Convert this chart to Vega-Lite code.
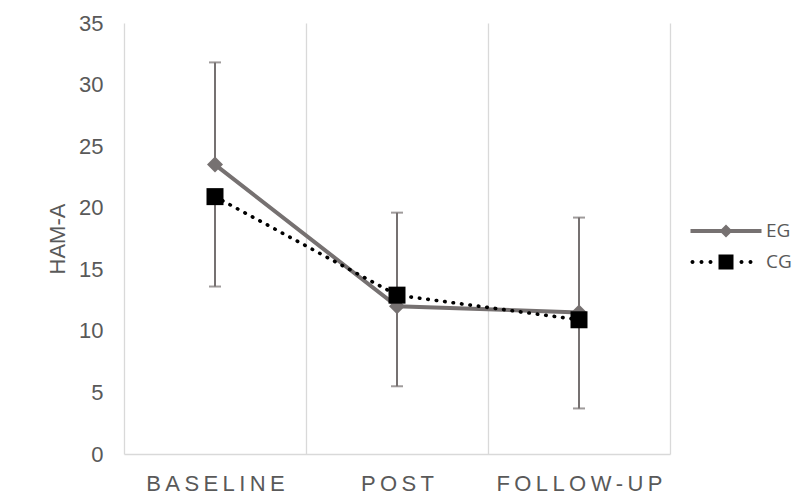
{
  "$schema": "https://vega.github.io/schema/vega-lite/v6.json",
  "autosize": {"type": "none"},
  "padding": {"left": 124, "top": 23, "right": 141, "bottom": 41},
  "width": 546,
  "height": 431,
  "background": "white",
  "config": {
    "font": "Liberation Sans",
    "view": {"stroke": null}
  },
  "data": {
    "values": [
      {"time": "BASELINE", "group": "EG", "mean": 23.5, "err": 31.8},
      {"time": "POST", "group": "EG", "mean": 12.0, "err": 19.6},
      {"time": "FOLLOW-UP", "group": "EG", "mean": 11.5, "err": 19.2},
      {"time": "BASELINE", "group": "CG", "mean": 20.9, "err": 13.6},
      {"time": "POST", "group": "CG", "mean": 12.9, "err": 5.5},
      {"time": "FOLLOW-UP", "group": "CG", "mean": 10.9, "err": 3.7}
    ]
  },
  "encoding": {
    "x": {
      "field": "time",
      "type": "nominal",
      "sort": ["BASELINE", "POST", "FOLLOW-UP"],
      "bandPosition": 0.5,
      "scale": {"type": "band", "paddingInner": 0, "paddingOuter": 0},
      "axis": {
        "title": null,
        "tickBand": "extent",
        "ticks": false,
        "grid": true,
        "gridColor": "#d9d9d9",
        "gridWidth": 1.3,
        "domainColor": "#d9d9d9",
        "domainWidth": 1.5,
        "labelFontSize": 22,
        "labelColor": "#595959",
        "labelPadding": 19,
        "labelAngle": 0,
        "labelExpr": "join(split(datum.label, ''), '\u2009')"
      }
    }
  },
  "layer": [
    {
      "mark": {"type": "rule", "color": "#767171", "strokeWidth": 2},
      "encoding": {
        "y": {
          "field": "mean",
          "type": "quantitative",
          "scale": {"domain": [0, 35], "nice": false},
          "axis": {
            "title": "HAM-A",
            "values": [0, 5, 10, 15, 20, 25, 30, 35],
            "grid": false,
            "domain": false,
            "ticks": false,
            "labelFontSize": 22,
            "labelColor": "#595959",
            "labelPadding": 21,
            "titleFontSize": 22,
            "titleFontWeight": "normal",
            "titleColor": "#595959",
            "titleX": -67,
            "titleBaseline": "middle"
          }
        },
        "y2": {"field": "err"}
      }
    },
    {
      "mark": {"type": "tick", "color": "#767171", "thickness": 2, "size": 12},
      "encoding": {
        "y": {"field": "err", "type": "quantitative"}
      }
    },
    {
      "transform": [{"filter": "datum.group === 'EG'"}],
      "mark": {"type": "line", "color": "#767171", "strokeWidth": 4},
      "encoding": {
        "y": {"field": "mean", "type": "quantitative"}
      }
    },
    {
      "transform": [{"filter": "datum.group === 'EG'"}],
      "mark": {"type": "point", "filled": true, "opacity": 1, "shape": "diamond", "size": 256, "color": "#767171"},
      "encoding": {
        "y": {"field": "mean", "type": "quantitative"}
      }
    },
    {
      "transform": [{"filter": "datum.group === 'CG'"}],
      "mark": {"type": "line", "color": "#000000", "strokeWidth": 3.6, "strokeDash": [0.5, 8], "strokeCap": "round"},
      "encoding": {
        "y": {"field": "mean", "type": "quantitative"}
      }
    },
    {
      "transform": [{"filter": "datum.group === 'CG'"}],
      "mark": {"type": "point", "filled": true, "opacity": 1, "shape": "square", "size": 289, "color": "#000000"},
      "encoding": {
        "y": {"field": "mean", "type": "quantitative"}
      }
    },
    {
      "transform": [{"filter": "false"}],
      "mark": {"type": "point", "filled": true, "opacity": 1, "size": 100},
      "encoding": {
        "y": {"field": "mean", "type": "quantitative"},
        "color": {
          "field": "group",
          "type": "nominal",
          "scale": {"domain": ["EG", "CG"], "range": ["#767171", "#000000"]},
          "legend": {
            "title": null,
            "orient": "none",
            "legendX": 592.5,
            "legendY": 198.5,
            "padding": 0,
            "labelFontSize": 19,
            "labelColor": "#595959",
            "labelFont": "Open Sans",
            "symbolSize": 100,
            "labelOffset": 30.5,
            "rowPadding": 11
          }
        },
        "shape": {
          "field": "group",
          "type": "nominal",
          "scale": {
            "domain": ["EG", "CG"],
            "range": [
              "M-7.1,-0.4H7.1V0.4H-7.1Z M0,-1.3L1.3,0L0,1.3L-1.3,0Z",
              "M-1.5,-1.5H1.5V1.5H-1.5Z M-7.1,0a0.4,0.4 0 1,0 0.8,0a0.4,0.4 0 1,0 -0.8,0Z M-5.3,0a0.4,0.4 0 1,0 0.8,0a0.4,0.4 0 1,0 -0.8,0Z M-3.5,0a0.4,0.4 0 1,0 0.8,0a0.4,0.4 0 1,0 -0.8,0Z M2.7,0a0.4,0.4 0 1,0 0.8,0a0.4,0.4 0 1,0 -0.8,0Z M4.5,0a0.4,0.4 0 1,0 0.8,0a0.4,0.4 0 1,0 -0.8,0Z"
            ]
          },
          "legend": {
            "title": null,
            "orient": "none",
            "legendX": 592.5,
            "legendY": 198.5,
            "padding": 0,
            "labelFontSize": 19,
            "labelColor": "#595959",
            "labelFont": "Open Sans",
            "symbolSize": 100,
            "labelOffset": 30.5,
            "rowPadding": 11
          }
        }
      }
    }
  ]
}
